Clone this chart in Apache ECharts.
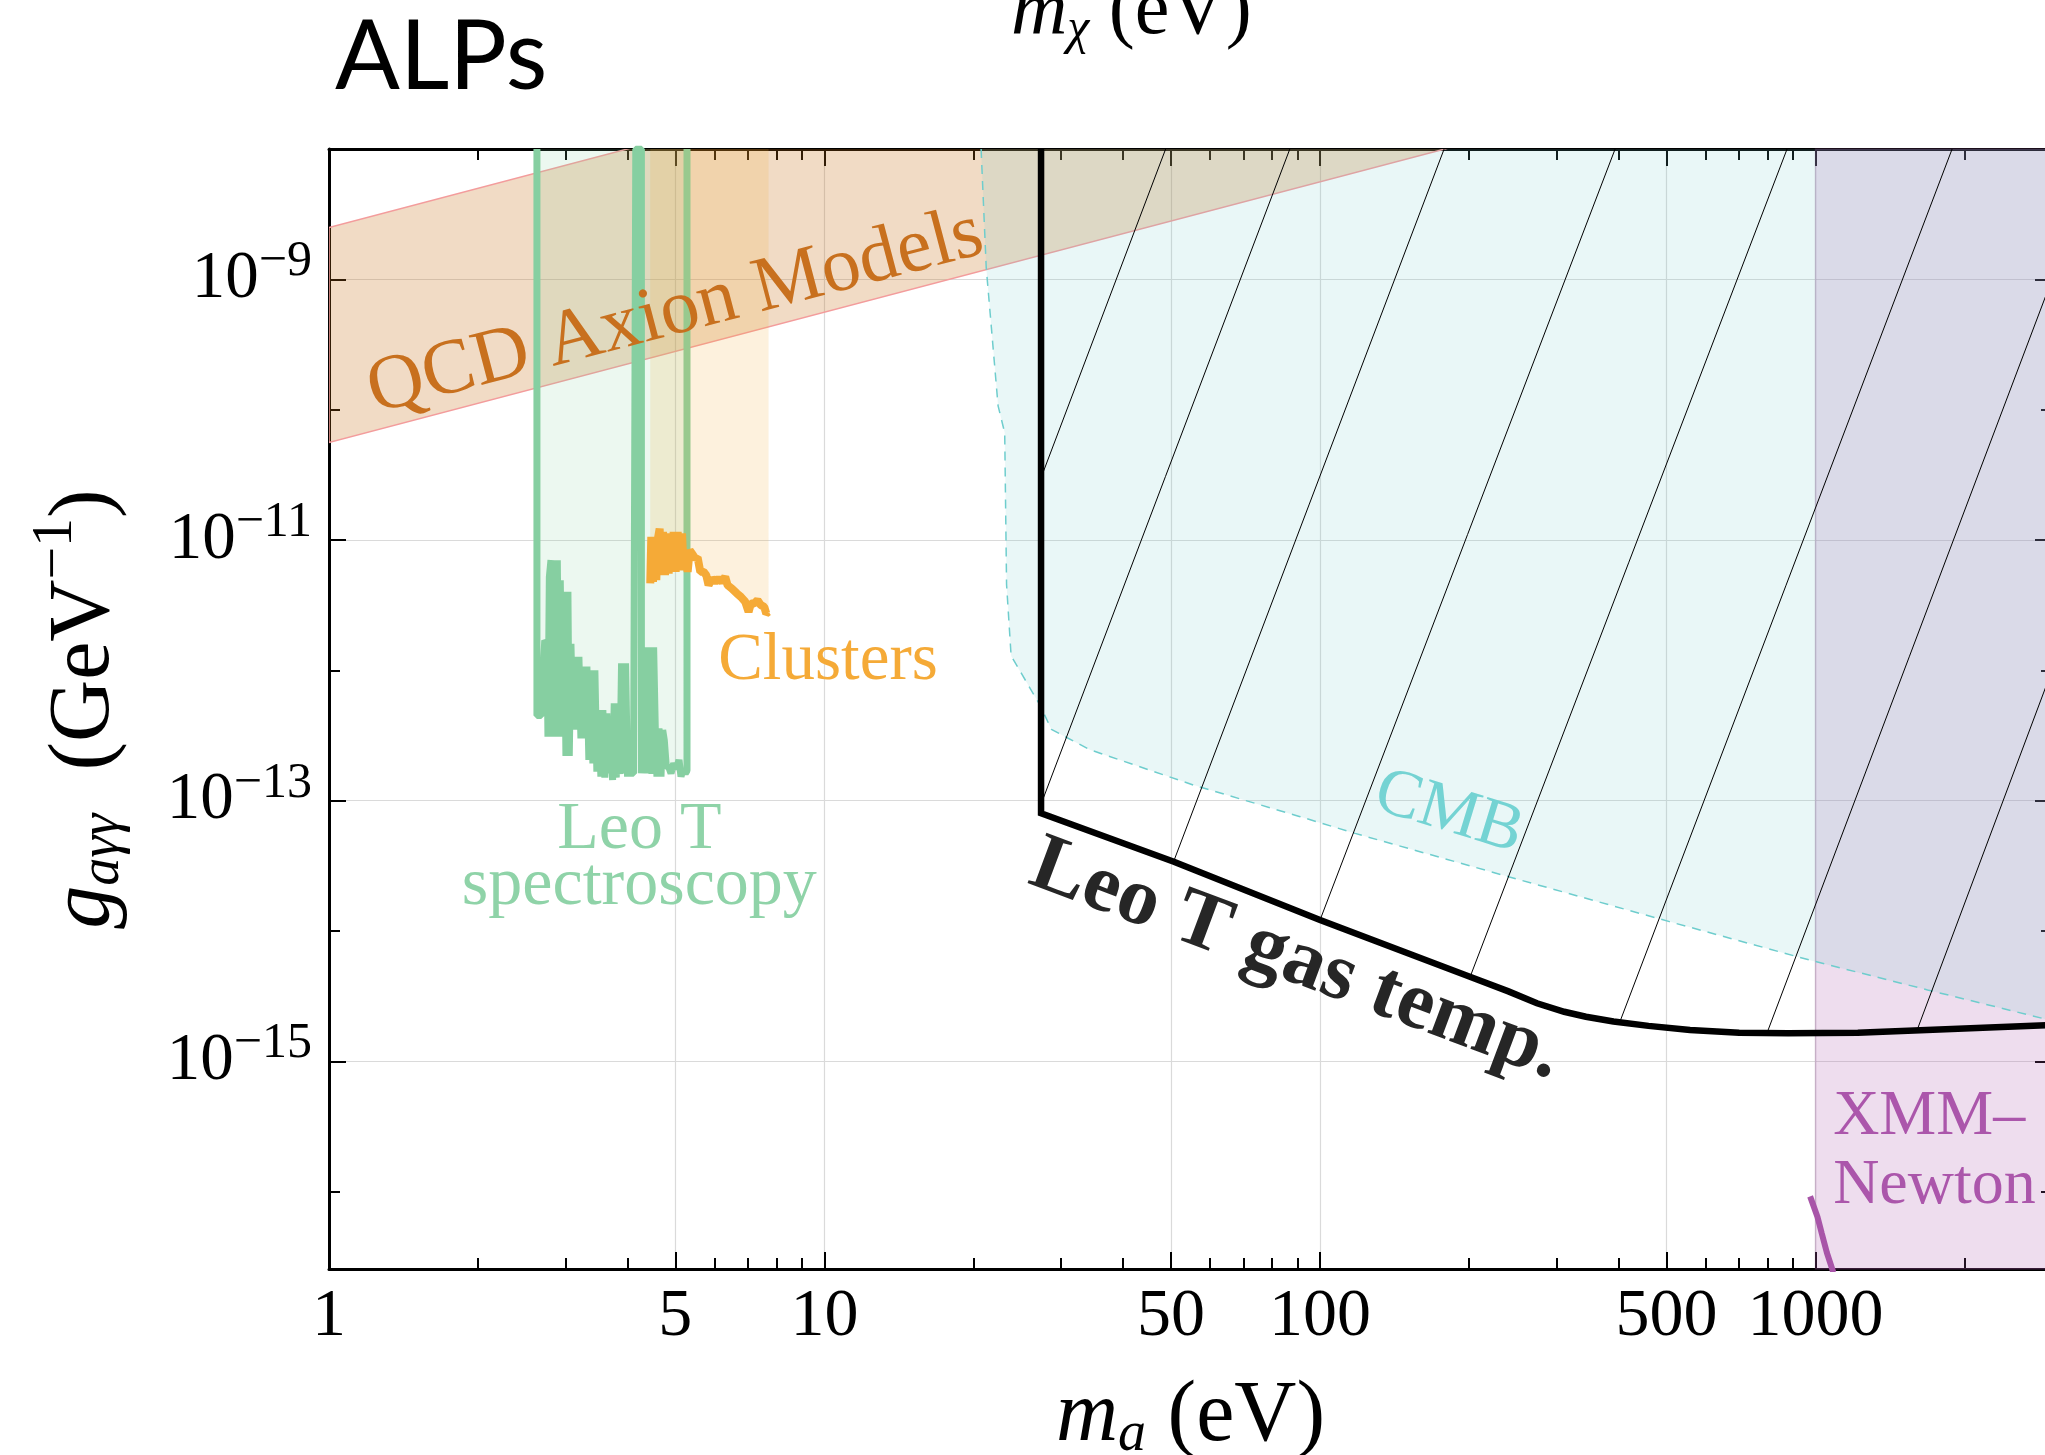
<!DOCTYPE html>
<html>
<head>
<meta charset="utf-8">
<title>ALPs — Leo T bounds</title>
<script src="https://cdn.jsdelivr.net/npm/echarts@6/dist/echarts.min.js"></script>
<style>
  html, body { margin: 0; padding: 0; overflow: hidden; background: #fff; }
  #chart { width: 2060px; height: 1455px; }
</style>
</head>
<body>
<div id="chart"></div>
<script>
// ---------------- data (m in eV, g in GeV^-1) ----------------
const massMajorTicks = [1, 5, 10, 50, 100, 500, 1000];
const massMinorTicks = [2, 3, 4, 6, 7, 8, 9, 20, 30, 40, 60, 70, 80, 90,
                        200, 300, 400, 600, 700, 800, 900, 2000];
const couplingLabelTicks = [1e-15, 1e-13, 1e-11, 1e-9];
const couplingMinorTicks = [1e-16, 1e-14, 1e-12, 1e-10];

const massRange = [1, 3000];
const couplingRange = [2.55e-17, 1e-8];

// QCD axion band edges
const qcdUpperEdge = [[1, 2.5e-9], [3000, 7.5e-6]];
const qcdLowerEdge = [[1, 5.6e-11], [3000, 1.68e-7]];

// Galaxy-cluster bound
const clustersBound = [
  [4.450, 4.64e-12], [4.471, 1.057e-11], [4.506, 4.78e-12], [4.541, 1.026e-11],
  [4.576, 4.92e-12], [4.605, 9.97e-12], [4.648, 1.224e-11], [4.684, 5.37e-12],
  [4.721, 1.154e-11], [4.765, 5.37e-12], [4.802, 1.057e-11], [4.847, 5.53e-12],
  [4.884, 1.121e-11], [4.922, 5.70e-12], [4.961, 1.154e-11], [5.007, 5.70e-12],
  [5.054, 1.154e-11], [5.101, 5.87e-12], [5.157, 1.121e-11], [5.197, 5.87e-12],
  [5.237, 8.35e-12], [5.294, 5.70e-12], [5.344, 8.35e-12], [5.401, 7.87e-12],
  [5.485, 7.21e-12], [5.545, 7.35e-12], [5.614, 5.70e-12], [5.701, 5.70e-12],
  [5.772, 5.37e-12], [5.834, 4.50e-12], [5.926, 5.06e-12], [6.018, 4.78e-12],
  [6.112, 5.06e-12], [6.208, 4.78e-12], [6.303, 5.22e-12], [6.372, 4.50e-12],
  [6.502, 4.24e-12], [6.655, 3.89e-12], [6.780, 3.66e-12], [6.918, 3.36e-12],
  [7.026, 2.81e-12], [7.103, 3.26e-12], [7.213, 3.26e-12], [7.326, 3.45e-12],
  [7.441, 3.16e-12], [7.557, 3.07e-12], [7.627, 2.73e-12], [7.710, 2.81e-12]
];

// Leo T spectroscopy bound
const leoTSpectroscopy = [
  [2.628, 1e-8], [2.628, 4.5e-13], [2.680, 4.5e-13], [2.725, 1.7e-12], [2.754, 1.6e-12],
  [2.766, 3.1e-13], [2.784, 5.2e-12], [2.805, 7.0e-12], [2.822, 3.1e-13], [2.840, 7.0e-12],
  [2.866, 3.2e-13], [2.889, 7.0e-12], [2.911, 3.1e-13], [2.929, 4.9e-12], [2.957, 3.1e-13],
  [2.984, 4.0e-12], [3.007, 2.2e-13], [3.035, 4.0e-12], [3.054, 2.2e-13], [3.078, 1.6e-12],
  [3.106, 3.5e-13], [3.135, 1.27e-12], [3.165, 3.5e-13], [3.194, 1.27e-12], [3.224, 3.0e-13],
  [3.254, 1.07e-12], [3.284, 3.0e-13], [3.315, 1.07e-12], [3.345, 2.05e-13], [3.376, 1.0e-12],
  [3.408, 1.93e-13], [3.440, 1.0e-12], [3.472, 1.67e-13], [3.504, 4.95e-13], [3.537, 1.53e-13],
  [3.570, 4.95e-13], [3.603, 1.5e-13], [3.637, 4.67e-13], [3.672, 1.62e-13], [3.706, 3.48e-13],
  [3.735, 1.44e-13], [3.764, 5.57e-13], [3.799, 1.5e-13], [3.834, 5.57e-13], [3.864, 1.6e-13],
  [3.894, 1.13e-12], [3.931, 1.62e-13], [3.967, 1.13e-12], [4.004, 1.53e-13], [4.035, 3.1e-13],
  [4.073, 1.62e-13], [4.118, 1.62e-13], [4.160, 1e-8], [4.270, 1e-8], [4.270, 1.62e-13],
  [4.370, 1.5e-12], [4.410, 1.62e-13], [4.450, 1.5e-12], [4.485, 1.6e-13], [4.520, 1.5e-12],
  [4.555, 3.58e-13], [4.590, 1.53e-13], [4.633, 3.58e-13], [4.677, 1.53e-13], [4.714, 3.48e-13],
  [4.750, 2.9e-13], [4.794, 1.82e-13], [4.847, 1.82e-13], [4.900, 1.62e-13], [4.961, 1.93e-13],
  [5.022, 1.75e-13], [5.085, 2.05e-13], [5.133, 1.53e-13], [5.180, 1.75e-13], [5.237, 1.62e-13],
  [5.278, 1.7e-13], [5.278, 1e-8]
];

// CMB bound
const cmbBound = [
  [20.7, 1e-8], [21.2, 1.23e-9], [22.4, 1.07e-10], [23.1, 6.65e-11], [23.3, 4.56e-12],
  [23.8, 1.29e-12], [27.2, 5.43e-13], [28.7, 3.52e-13], [34.3, 2.46e-13], [55.8, 1.31e-13],
  [90.8, 7.57e-14], [117.7, 5.61e-14], [240, 2.61e-14], [507, 1.18e-14], [970, 6.0e-15],
  [1683, 3.53e-15], [3000, 2.05e-15]
];

// XMM-Newton
const xmmNewtonRange = [1000, 3000];
const xmmNewtonBound = [[975, 9.2e-17], [1009, 6.4e-17], [1029, 4.8e-17], [1054, 3.4e-17], [1086, 2.4e-17]];

// Leo T gas temperature bound
const leoTGasTemp = [
  [27.35, 1e-8], [27.35, 8.0e-14], [50.7, 3.40e-14], [100, 1.215e-14], [200, 4.47e-15],
  [240, 3.44e-15], [274, 2.79e-15], [311, 2.40e-15], [344, 2.20e-15], [391, 2.02e-15],
  [460, 1.87e-15], [558, 1.74e-15], [701, 1.66e-15], [880, 1.64e-15], [1217, 1.66e-15],
  [3000, 1.90e-15]
];

// hatching above the gas temperature bound (segment end points)
const gasTempHatch = [
  [[27.35, 3.0e-11], [48.8, 1e-8]],
  [[27.35, 9.4e-14], [86.9, 1e-8]],
  [[50.7, 3.45e-14], [178, 1e-8]],
  [[100, 1.215e-14], [394, 1e-8]],
  [[200.9, 4.46e-15], [876, 1e-8]],
  [[403, 2.02e-15], [1886, 1e-8]],
  [[798, 1.65e-15], [3000, 1.0e-9]],
  [[1604, 1.75e-15], [3000, 1.0e-12]]
];

// ---------------- styling ----------------
const SERIF = "'Liberation Serif', 'Times New Roman', Times, serif";
const BLACK = '#000';

const annotations = [
  { text: 'QCD Axion Models', at: [5.0, 5.53e-10], rotate: 14.7, align: 'center', font: `78px ${SERIF}`, color: '#c8701e' },
  { text: 'Clusters', at: [6.1, 1.18e-12], rotate: 0, align: 'left', font: `67px ${SERIF}`, color: '#f5aa37' },
  { text: 'Leo T', at: [4.23, 5.9e-14], rotate: 0, align: 'center', font: `68px ${SERIF}`, color: '#8fd3a8' },
  { text: 'spectroscopy', at: [4.23, 2.2e-14], rotate: 0, align: 'center', font: `68px ${SERIF}`, color: '#8fd3a8' },
  { text: 'CMB', at: [182, 8.03e-14], rotate: -17, align: 'center', font: `68px ${SERIF}`, color: '#74d3d3' },
  { text: 'Leo T gas temp.', at: [89.5, 5.9e-15], rotate: -20.5, align: 'center', font: `bold 82px ${SERIF}`, color: '#262626' },
  { text: 'XMM\u2013', at: [1085, 3.75e-16], rotate: 0, align: 'left', font: `64px ${SERIF}`, color: '#ab56ab' },
  { text: 'Newton', at: [1085, 1.1e-16], rotate: 0, align: 'left', font: `64px ${SERIF}`, color: '#ab56ab' }
];

function logAxis(extra) {
  return Object.assign({
    type: 'log', logBase: 10,
    axisLine: { show: false, onZero: false, lineStyle: { color: BLACK, width: 3 } },
    axisTick: { show: true, inside: true, length: 17, lineStyle: { color: BLACK, width: 2 } },
    axisLabel: { show: false },
    splitLine: { show: false },
    minorTick: { show: false },
    minorSplitLine: { show: false },
    nameMoveOverlap: false
  }, extra);
}

const xCommon = { min: massRange[0], max: massRange[1] };
const yCommon = { min: couplingRange[0], max: couplingRange[1] };

const NAME_SIZE = 86;
const nameRich = {
  i: { fontFamily: SERIF, fontStyle: 'italic', fontSize: NAME_SIZE, color: BLACK, verticalAlign: 'middle' },
  sub: { fontFamily: SERIF, fontStyle: 'italic', fontSize: 56, color: BLACK, verticalAlign: 'middle', padding: [36, 0, 0, 0] },
  n: { fontFamily: SERIF, fontSize: NAME_SIZE, color: BLACK, verticalAlign: 'middle' },
  sup: { fontFamily: SERIF, fontSize: 58, color: BLACK, verticalAlign: 'middle', padding: [0, 0, 58, 0] }
};

const option = {
  animation: false,
  backgroundColor: '#fff',
  grid: { left: 329, right: 8, top: 149, bottom: 186, containLabel: false, outerBoundsMode: 'none' },
  graphic: [
    {
      type: 'text', x: 335, y: 58, silent: true,
      style: { text: 'ALPs', font: "96px Lato, 'Open Sans', sans-serif", fill: BLACK, align: 'left', verticalAlign: 'middle' }
    },
    {
      type: 'text', x: 1011, y: 13, silent: true,
      style: {
        text: '{i|m}{sub|\u03c7}{n| (eV)}', align: 'left', verticalAlign: 'middle', fill: BLACK,
        rich: {
          i: { font: `italic 78px ${SERIF}`, fill: BLACK, verticalAlign: 'middle' },
          sub: { font: `italic 50px ${SERIF}`, fill: BLACK, verticalAlign: 'middle', padding: [34, 0, 0, 0] },
          n: { font: `78px ${SERIF}`, fill: BLACK, verticalAlign: 'middle' }
        }
      }
    }
  ],
  xAxis: [
    logAxis(Object.assign({}, xCommon, {
      position: 'bottom',
      axisLine: { show: true, onZero: false, lineStyle: { color: BLACK, width: 3 } },
      axisTick: { show: true, inside: true, length: 17, customValues: massMajorTicks, lineStyle: { color: BLACK, width: 2 } },
      axisLabel: {
        show: true, customValues: massMajorTicks, margin: 14,
        fontFamily: SERIF, fontSize: 68, color: BLACK,
        formatter: v => String(Math.round(v))
      },
      splitLine: { show: true, lineStyle: { color: '#dadada', width: 1.2 } },
      name: '{i|m}{sub|a}{n| (eV)}', nameLocation: 'middle', nameGap: 102,
      nameTextStyle: { rich: nameRich }
    })),
    logAxis(Object.assign({}, xCommon, {
      position: 'bottom',
      axisTick: { show: true, inside: true, length: 11, customValues: massMinorTicks, lineStyle: { color: BLACK, width: 2 } }
    })),
    logAxis(Object.assign({}, xCommon, {
      position: 'top',
      axisLine: { show: true, onZero: false, lineStyle: { color: BLACK, width: 3 } },
      axisTick: { show: true, inside: true, length: 17, customValues: massMajorTicks, lineStyle: { color: BLACK, width: 2 } }
    })),
    logAxis(Object.assign({}, xCommon, {
      position: 'top',
      axisTick: { show: true, inside: true, length: 11, customValues: massMinorTicks, lineStyle: { color: BLACK, width: 2 } }
    }))
  ],
  yAxis: [
    logAxis(Object.assign({}, yCommon, {
      position: 'left',
      axisLine: { show: true, onZero: false, lineStyle: { color: BLACK, width: 3 } },
      axisTick: { show: true, inside: true, length: 17, customValues: couplingLabelTicks, lineStyle: { color: BLACK, width: 2 } },
      axisLabel: {
        show: true, customValues: couplingLabelTicks, margin: 17,
        formatter: v => '{b|10}{s|\u2212' + Math.round(-Math.log10(v)) + '}',
        rich: {
          b: { fontFamily: SERIF, fontSize: 67, color: BLACK, verticalAlign: 'middle' },
          s: { fontFamily: SERIF, fontSize: 50, color: BLACK, verticalAlign: 'middle', padding: [0, 0, 34, 0] }
        }
      },
      splitLine: { show: true, lineStyle: { color: '#dadada', width: 1.2 } },
      name: '{i|g}{sub|a\u03b3\u03b3}{n|  (GeV}{sup|\u22121}{n|)}',
      nameLocation: 'middle', nameRotate: 90, nameGap: 186,
      nameTextStyle: { rich: nameRich }
    })),
    logAxis(Object.assign({}, yCommon, {
      position: 'left',
      axisTick: { show: true, inside: true, length: 11, customValues: couplingMinorTicks, lineStyle: { color: BLACK, width: 2 } }
    })),
    logAxis(Object.assign({}, yCommon, {
      position: 'right',
      axisLine: { show: true, onZero: false, lineStyle: { color: BLACK, width: 3 } },
      axisTick: { show: true, inside: true, length: 17, customValues: couplingLabelTicks, lineStyle: { color: BLACK, width: 2 } }
    })),
    logAxis(Object.assign({}, yCommon, {
      position: 'right',
      axisTick: { show: true, inside: true, length: 11, customValues: couplingMinorTicks, lineStyle: { color: BLACK, width: 2 } }
    }))
  ],
  series: [
    {
      // QCD axion model band
      name: 'QCD Axion Models', type: 'custom', clip: true, silent: true, z: 1,
      data: qcdUpperEdge,
      renderItem(params, api) {
        if (params.dataIndex !== 0) return null;
        const pts = qcdUpperEdge.map(p => api.coord(p))
          .concat(qcdLowerEdge.slice().reverse().map(p => api.coord(p)));
        return {
          type: 'polygon', shape: { points: pts },
          style: { fill: 'rgba(200,110,25,0.25)', stroke: '#f39c9c', lineWidth: 1.5 }
        };
      }
    },
    {
      name: 'CMB', type: 'line', z: 2, silent: true,
      data: cmbBound, showSymbol: false, symbol: 'none',
      lineStyle: { color: '#6ecdcd', width: 1.5, type: [9, 7] },
      areaStyle: { origin: 'end', color: 'rgba(110,205,205,0.22)' }
    },
    {
      name: 'XMM-Newton', type: 'line', z: 3, silent: true,
      data: xmmNewtonBound, showSymbol: false, symbol: 'none',
      lineStyle: { color: '#a855a8', width: 6 },
      markArea: {
        silent: true,
        itemStyle: { color: 'rgba(170,85,170,0.2)', borderColor: 'rgba(150,80,150,0.25)', borderWidth: 1.5 },
        data: [[{ xAxis: xmmNewtonRange[0] }, { xAxis: xmmNewtonRange[1] }]]
      }
    },
    {
      name: 'Leo T spectroscopy', type: 'line', z: 4, silent: true,
      data: leoTSpectroscopy, showSymbol: false, symbol: 'none',
      lineStyle: { color: '#86cfa1', width: 7, join: 'bevel' },
      areaStyle: { origin: 'end', color: 'rgba(133,206,160,0.22)' }
    },
    {
      name: 'Clusters', type: 'line', z: 5, silent: true,
      data: clustersBound, showSymbol: false, symbol: 'none',
      lineStyle: { color: '#f5aa37', width: 8, join: 'bevel' },
      areaStyle: { origin: 'end', color: 'rgba(245,170,55,0.245)' }
    },
    {
      name: 'hatch', type: 'lines', coordinateSystem: 'cartesian2d', z: 6, silent: true,
      data: gasTempHatch.map(seg => ({ coords: seg })),
      lineStyle: { color: BLACK, width: 1, opacity: 1 }
    },
    {
      name: 'Leo T gas temp.', type: 'line', z: 7, silent: true,
      data: leoTGasTemp, showSymbol: false, symbol: 'none',
      lineStyle: { color: BLACK, width: 6.5, join: 'miter' }
    },
    {
      // region labels anchored in data coordinates
      name: 'labels', type: 'custom', z: 8, silent: true, clip: false,
      data: annotations.map(a => a.at),
      renderItem(params, api) {
        const a = annotations[params.dataIndex];
        const p = api.coord(a.at);
        return {
          type: 'text', x: p[0], y: p[1], rotation: a.rotate * Math.PI / 180,
          style: { text: a.text, font: a.font, fill: a.color, align: a.align, verticalAlign: 'middle' }
        };
      }
    }
  ]
};

const chart = echarts.init(document.getElementById('chart'), null, { renderer: 'canvas' });
chart.setOption(option);
</script>
</body>
</html>
